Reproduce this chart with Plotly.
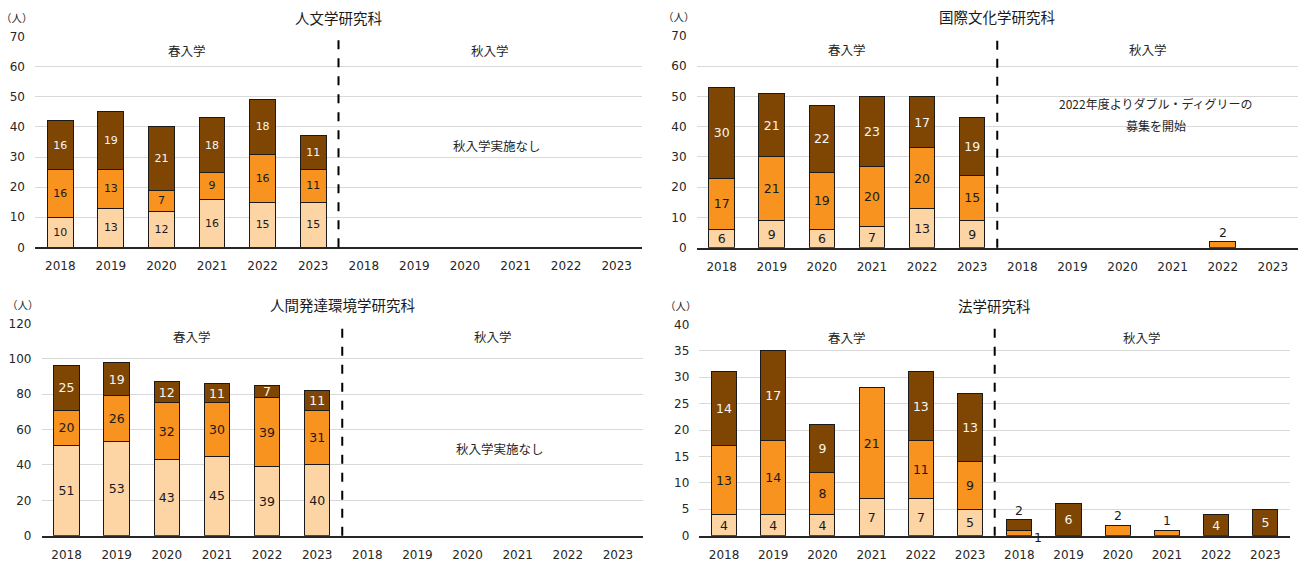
import plotly.graph_objects as go

years = ["2018", "2019", "2020", "2021", "2022", "2023"]
tick_labels = years + years
titles = ["人文学研究科", "国際文化学研究科", "人間発達環境学研究科", "法学研究科"]

# spring (6) + autumn (6) values, bottom / middle / top segments
p1_light = [10, 13, 12, 16, 15, 15, None, None, None, None, None, None]
p1_orange = [16, 13, 7, 9, 16, 11, None, None, None, None, None, None]
p1_brown = [16, 19, 21, 18, 18, 11, None, None, None, None, None, None]

p2_light = [6, 9, 6, 7, 13, 9, 0, 0, 0, 0, 0, 0]
p2_orange = [17, 21, 19, 20, 20, 15, 0, 0, 0, 0, 2, 0]
p2_brown = [30, 21, 22, 23, 17, 19, 0, 0, 0, 0, 0, 0]

p3_light = [51, 53, 43, 45, 39, 40, None, None, None, None, None, None]
p3_orange = [20, 26, 32, 30, 39, 31, None, None, None, None, None, None]
p3_brown = [25, 19, 12, 11, 7, 11, None, None, None, None, None, None]

p4_light = [4, 4, 4, 7, 7, 5, 0, 0, 0, 0, 0, 0]
p4_orange = [13, 14, 8, 21, 11, 9, 1, 0, 2, 1, 0, 0]
p4_brown = [14, 17, 9, 0, 13, 13, 2, 6, 0, 0, 4, 5]

y_max = [70, 70, 120, 40]
y_dtick = [10, 10, 20, 5]

panels = [
    (p1_light, p1_orange, p1_brown),
    (p2_light, p2_orange, p2_brown),
    (p3_light, p3_orange, p3_brown),
    (p4_light, p4_orange, p4_brown),
]

colors = ["#FDD4A4", "#F7931E", "#7F4603"]
text_colors = ["#1a1a1a", "#1a1a1a", "#F5F5F5"]
label_size = [11, 12.5, 12.5, 12.5]

W, H = 1305, 561
x_dom = [(35, 642), (696.6, 1297.9), (41.5, 643), (699.4, 1290)]
y_dom = [(247.3, 36.7), (247.7, 36.0), (535.7, 323.3), (535.7, 324.3)]

FONT = "DejaVu Sans, Noto Sans CJK JP, sans-serif"
JFONT = "Noto Sans CJK JP, sans-serif"

fig = go.Figure()
annotations = []
shapes = []

for i, segs in enumerate(panels):
    ax = "" if i == 0 else str(i + 1)
    xref, yref = "x" + ax, "y" + ax
    n = len(tick_labels)
    for k, vals in enumerate(segs):
        texts = []
        for j in range(n):
            v = vals[j]
            if v is None or v == 0:
                texts.append("")
                continue
            if v / y_max[i] < 0.055:
                texts.append("")
                below = sum((segs[m][j] or 0) for m in range(k))
                above = sum((segs[m][j] or 0) for m in range(k + 1, 3))
                if above == 0:
                    annotations.append(dict(
                        x=j, y=below + v, xref=xref, yref=yref, text=str(v),
                        showarrow=False, yanchor="bottom", yshift=0,
                        font=dict(family=FONT, size=label_size[i], color="#1a1a1a")))
                else:
                    annotations.append(dict(
                        x=j + 0.26, y=below + v / 2, xref=xref, yref=yref, text=str(v),
                        showarrow=False, xanchor="left", yanchor="middle", yshift=-4,
                        font=dict(family=FONT, size=label_size[i], color="#1a1a1a")))
            else:
                texts.append(str(v))
        fig.add_trace(go.Bar(
            x=list(range(n)), y=[v if v else None for v in vals],
            xaxis=xref, yaxis=yref,
            marker=dict(color=colors[k], line=dict(color="#1a1a1a", width=1)),
            width=0.51, text=texts, textposition="inside", textangle=0,
            insidetextanchor="middle", constraintext="none",
            textfont=dict(family=FONT, size=label_size[i], color=text_colors[k]),
            showlegend=False, hoverinfo="skip",
        ))

    x0, x1 = x_dom[i]
    yb, yt = y_dom[i]
    fig.layout["xaxis" + ax] = dict(
        domain=[x0 / W, x1 / W], range=[-0.5, 11.5], anchor=yref,
        tickvals=list(range(n)), ticktext=tick_labels, showgrid=False,
        showline=True, linecolor="#262626", linewidth=1.5, ticks="",
        ticklabelstandoff=7, tickfont=dict(family=FONT, size=12, color="#262626"),
        zeroline=False, fixedrange=True, automargin=False,
    )
    fig.layout["yaxis" + ax] = dict(
        domain=[1 - yb / H, 1 - yt / H], range=[0, y_max[i]], dtick=y_dtick[i],
        anchor=xref, showgrid=True, gridcolor="#D9D9D9", gridwidth=1,
        showline=False, zeroline=False, ticks="", ticklabelstandoff=9,
        tickfont=dict(family=FONT, size=12, color="#262626"), fixedrange=True,
        automargin=False,
    )
    shapes.append(dict(
        type="line", xref=xref, yref=yref + " domain", x0=5.5, x1=5.5, y0=0, y1=1,
        line=dict(color="#000000", width=2, dash="dash")))

    # panel title and unit label
    annotations.append(dict(
        x=(x0 + x1) / 2 / W, y=1 - (yt - 19) / H, xref="paper", yref="paper",
        text=titles[i], showarrow=False, xanchor="center", yanchor="middle",
        font=dict(family=JFONT, size=14.5, color="#1a1a1a")))
    annotations.append(dict(
        x=(x0 - 18) / W, y=1 - (yt - 19) / H, xref="paper", yref="paper",
        text="（人）", showarrow=False, xanchor="center", yanchor="middle",
        font=dict(family=JFONT, size=10.5, color="#262626")))

    # spring / autumn headers
    head_y = y_max[i] - (13.5 / (yb - yt)) * y_max[i]
    annotations.append(dict(
        x=2.5, y=head_y, xref=xref, yref=yref, text="春入学", showarrow=False,
        font=dict(family=JFONT, size=12.5, color="#262626")))
    annotations.append(dict(
        x=8.5, y=head_y, xref=xref, yref=yref, text="秋入学", showarrow=False,
        font=dict(family=JFONT, size=12.5, color="#262626")))

# notes
annotations.append(dict(x=8.64, y=34, xref="x", yref="y", text="秋入学実施なし",
                        showarrow=False, font=dict(family=JFONT, size=12.5, color="#262626")))
annotations.append(dict(x=8.64, y=49, xref="x3", yref="y3", text="秋入学実施なし",
                        showarrow=False, font=dict(family=JFONT, size=12.5, color="#262626")))
annotations.append(dict(x=8.66, y=47.8, xref="x2", yref="y2",
                        text="2022年度よりダブル・ディグリーの",
                        showarrow=False, font=dict(family=JFONT, size=12, color="#262626")))
annotations.append(dict(x=8.66, y=40.3, xref="x2", yref="y2", text="募集を開始",
                        showarrow=False, font=dict(family=JFONT, size=12, color="#262626")))

fig.update_layout(
    width=W, height=H, barmode="stack", bargap=0.49,
    margin=dict(l=0, r=0, t=0, b=0, pad=0, autoexpand=False),
    paper_bgcolor="white", plot_bgcolor="white",
    annotations=annotations, shapes=shapes, showlegend=False,
)

fig.write_html(
    "out.html",
    config={"displayModeBar": False},
    post_script="document.documentElement.style.margin='0';"
                "document.body.style.margin='0';"
                "document.body.style.padding='0';"
                "document.body.style.overflow='hidden';",
)
